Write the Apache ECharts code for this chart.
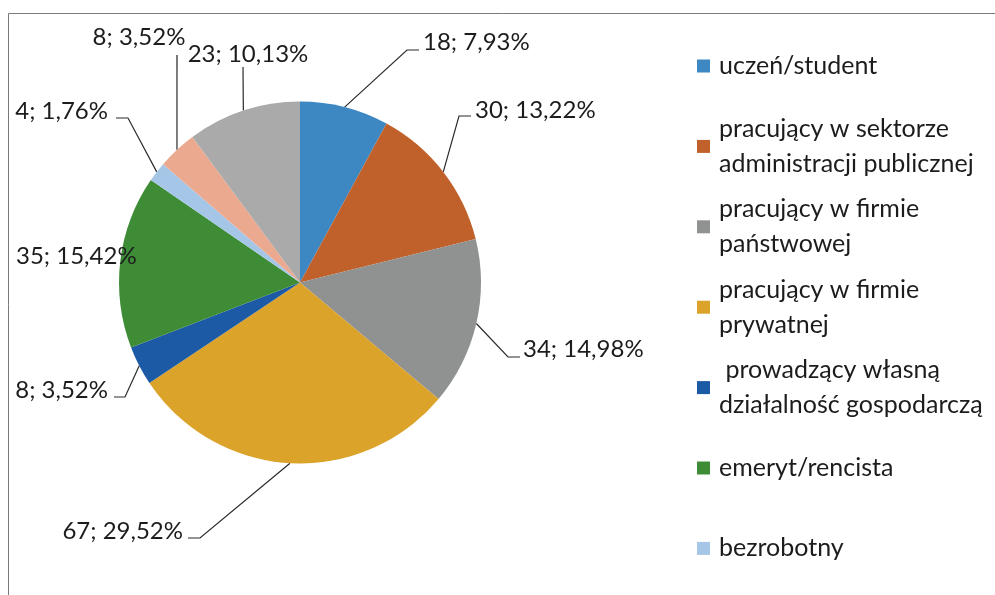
<!DOCTYPE html>
<html>
<head>
<meta charset="utf-8">
<script src="https://cdn.jsdelivr.net/npm/echarts@6/dist/echarts.min.js"></script>
<style>
  html, body { margin: 0; padding: 0; background: #fff; }
  #chart { width: 995px; height: 595px; }
</style>
</head>
<body>
<div id="chart"></div>
<script>
// dane z wykresu
const categories = [
  'uczeń/student',
  'pracujący w sektorze administracji publicznej',
  'pracujący w firmie państwowej',
  'pracujący w firmie prywatnej',
  ' prowadzący własną działalność gospodarczą',
  'emeryt/rencista',
  'bezrobotny',
  'rolnik',
  'inne'
]
const legendText = [
  'uczeń/student',
  'pracujący w sektorze\nadministracji publicznej',
  'pracujący w firmie\npaństwowej',
  'pracujący w firmie\nprywatnej',
  ' prowadzący własną\ndziałalność gospodarczą',
  'emeryt/rencista',
  'bezrobotny',
  'rolnik',
  'inne'
]
const counts = [18, 30, 34, 67, 8, 35, 4, 8, 23]

const colors = ['#3d87c2', '#c0602a', '#909191', '#dba32a', '#1c5aa6', '#3e8d36', '#a6c6e8', '#eba98f', '#aaaaaa']
const FONT = 'Lato'
const TEXT = '#1c1c1c'
const CX = 300
const CY = 282.5
const R = 181

// pozycje etykiet jak w Excelu (tekst, kolanko linii, koniec linii)
const labelSpots = [
  { x: 423, y: 42, align: 'left', elbow: [407, 50], end: [419, 50] },
  { x: 475, y: 110, align: 'left', elbow: [459, 116], end: [471, 116] },
  { x: 523, y: 349, align: 'left', elbow: [508, 357], end: [520, 357] },
  { x: 183, y: 531, align: 'right', elbow: [200, 538], end: [188, 538] },
  { x: 108, y: 390, align: 'right', elbow: [125, 397], end: [114, 397] },
  { x: 16, y: 256, align: 'left', elbow: null },
  { x: 108, y: 111, align: 'right', elbow: [128, 118], end: [116, 118] },
  { x: 139, y: 37, align: 'center', elbow: [177, 55], end: [177, 55] },
  { x: 248, y: 54, align: 'center', elbow: [243, 67], end: [243, 67] }
]

const total = counts.reduce((a, b) => a + b, 0)

function anchor (i) {
  let before = 0
  for (let k = 0; k < i; k++) before += counts[k]
  const mid = (before + counts[i] / 2) / total * Math.PI * 2
  return [CX + R * Math.sin(mid), CY - R * Math.cos(mid)]
}

const chart = echarts.init(document.getElementById('chart'))

const option = {
  animation: false,
  color: colors,
  graphic: [{
    type: 'rect',
    shape: { x: 8.5, y: 13.5, width: 1200, height: 800 },
    style: { fill: 'none', stroke: '#7a7a7a', lineWidth: 1 },
    silent: true
  }],
  legend: categories.map((name, i) => ({
    data: [name],
    orient: 'vertical',
    left: 697,
    top: 66 + 80.4 * i - 52.5,
    padding: 0,
    icon: 'rect',
    itemWidth: 13,
    itemHeight: 13,
    selectedMode: false,
    formatter: () => legendText[i],
    textStyle: {
      fontFamily: FONT,
      fontSize: 25,
      color: TEXT,
      lineHeight: 35,
      padding: legendText[i].indexOf('\n') >= 0 ? [35, 0, 0, 4] : [35, 0, 35, 4]
    }
  })),
  series: [{
    type: 'pie',
    center: [CX, CY],
    radius: R,
    startAngle: 90,
    clockwise: true,
    avoidLabelOverlap: false,
    itemStyle: { borderWidth: 0 },
    label: {
      show: true,
      position: 'outside',
      fontFamily: FONT,
      fontSize: 24,
      color: TEXT,
      formatter: p => p.value + '; ' + (p.value / total * 100).toFixed(2).replace('.', ',') + '%'
    },
    labelLine: {
      show: true,
      length: 10,
      length2: 10,
      lineStyle: { color: '#2a2a2a', width: 1.2 }
    },
    labelLayout: params => {
      const s = labelSpots[params.dataIndex]
      const out = { x: s.x, y: s.y, align: s.align, verticalAlign: 'middle' }
      if (s.elbow) {
        out.labelLinePoints = [anchor(params.dataIndex), s.elbow, s.end]
      }
      return out
    },
    emphasis: { disabled: true },
    data: categories.map((name, i) => ({
      name: name,
      value: counts[i],
      labelLine: { show: labelSpots[i].elbow !== null }
    }))
  }]
}

chart.setOption(option)
</script>
</body>
</html>
